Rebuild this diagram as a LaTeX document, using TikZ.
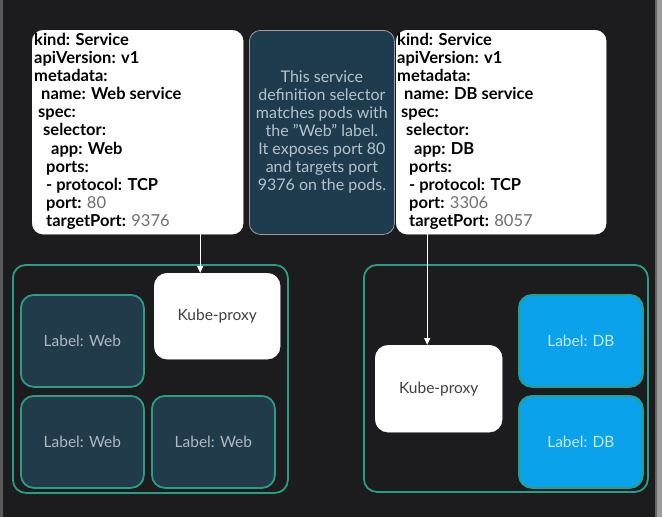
\documentclass[tikz,border=0pt]{standalone}
\usepackage{fontspec}
\setmainfont{Lato}
\usetikzlibrary{arrows.meta}
\definecolor{bgc}{HTML}{1C1C1E}
\definecolor{edgec}{HTML}{9C9C9C}
\definecolor{leftc}{HTML}{5A5A5A}
\definecolor{greenc}{HTML}{2A9D84}
\definecolor{podc}{HTML}{213B4B}
\definecolor{notec}{HTML}{1F3C4F}
\definecolor{notetext}{HTML}{B4C2CB}
\definecolor{labeltext}{HTML}{AEB8C0}
\definecolor{dbc}{HTML}{0AA2EA}
\definecolor{dbtext}{HTML}{C8E6F5}
\definecolor{valc}{HTML}{707070}
\tikzset{
  yamlbox/.style={draw=white, fill=white, rounded corners=11pt, minimum width=211pt, minimum height=204pt, anchor=north west},
  yamltext/.style={anchor=north west, align=left, font=\fontsize{16.5}{18.1}\selectfont\bfseries, text=black, inner sep=0pt},
  notebox/.style={draw=edgec, line width=0.8pt, fill=notec, rounded corners=11pt, minimum width=145pt, minimum height=204pt, anchor=north west, align=center, text=notetext, font=\fontsize{16}{18}\selectfont},
  cont/.style={draw=greenc, line width=1.8pt, rounded corners=13pt, anchor=north west},
  pod/.style={draw=greenc, line width=1.8pt, fill=podc, rounded corners=13pt, minimum width=123pt, minimum height=92pt, anchor=north west, text=labeltext, font=\fontsize{15.5}{17}\selectfont},
  dbpod/.style={pod, fill=dbc, text=dbtext},
  proxy/.style={draw=white, fill=white, rounded corners=13pt, minimum width=126pt, minimum height=86pt, anchor=north west, text=black!75, font=\fontsize{15.5}{17}\selectfont},
  conn/.style={draw=white, line width=1.2pt, -{Triangle[length=7pt,width=6pt]}}
}
\newcommand{\yv}[1]{\textcolor{valc}{\mdseries #1}}
\begin{document}
\begin{tikzpicture}[x=1pt,y=-1pt]
\useasboundingbox (0,0) rectangle (662,517);
\fill[bgc] (0,0) rectangle (662,517);
\fill[leftc] (0,0) rectangle (3,517);
\fill[edgec] (655,0) rectangle (662,517);
\fill[black!60] (655,0) rectangle (656.5,517);

% YAML boxes
\node[yamlbox] (ly) at (32,30) {};
\node[yamltext] (lyt) at (34,33) {kind: Service\\
apiVersion: v1\\
metadata:\\
\hspace*{7pt}name: Web service\\
\hspace*{4pt}spec:\\
\hspace*{9pt}selector:\\
\hspace*{17pt}app: Web\\
\hspace*{12pt}ports:\\
\hspace*{12pt}- protocol: TCP\\
\hspace*{12pt}port: \yv{80}\\
\hspace*{12pt}targetPort: \yv{9376}};

\node[notebox] (note) at (249,30) {This service\\definition selector\\matches pods with\\the "Web" label.\\It exposes port 80\\and targets port\\9376 on the pods.};

\node[yamlbox, minimum width=210pt] (ry) at (396,30) {};
\node[yamltext] (ryt) at (397,33) {kind: Service\\
apiVersion: v1\\
metadata:\\
\hspace*{7pt}name: DB service\\
\hspace*{4pt}spec:\\
\hspace*{9pt}selector:\\
\hspace*{17pt}app: DB\\
\hspace*{12pt}ports:\\
\hspace*{12pt}- protocol: TCP\\
\hspace*{12pt}port: \yv{3306}\\
\hspace*{12pt}targetPort: \yv{8057}};

% containers
\node[cont, minimum width=275pt, minimum height=228pt] (lc) at (12,264) {};
\node[cont, minimum width=284pt, minimum height=227pt] (rc) at (363,264) {};

% left pods
\node[pod] (w1) at (20,294) {Label: Web};
\node[proxy] (lp) at (154,273) {Kube-proxy};
\node[pod] (w2) at (20,395) {Label: Web};
\node[pod] (w3) at (151,395) {Label: Web};

% right pods
\node[proxy, minimum width=127pt, minimum height=87pt] (rp) at (375,345) {Kube-proxy};
\node[dbpod, minimum width=124pt] (d1) at (518,294) {Label: DB};
\node[dbpod, minimum width=124pt] (d2) at (518,395) {Label: DB};

% connectors
\draw[conn] (ly.south -| lp.north) ++(-17,0) coordinate (a1) -- (a1 |- lp.north);
\draw[conn] (ry.south -| rp.north) ++(-11.5,0) coordinate (a2) -- (a2 |- rp.north);
\end{tikzpicture}
\end{document}
